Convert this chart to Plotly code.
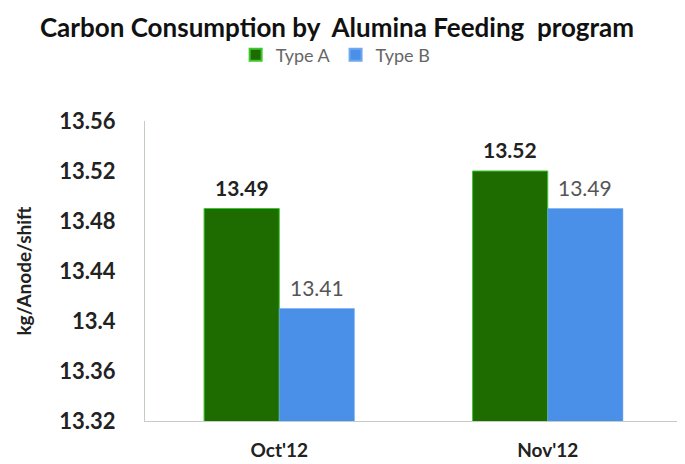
import plotly.graph_objects as go

categories = ["Oct'12", "Nov'12"]
type_a = [13.49, 13.52]
type_b = [13.41, 13.49]
y_ticks = [13.32, 13.36, 13.40, 13.44, 13.48, 13.52, 13.56]
y_tick_labels = ["13.32", "13.36", "13.4", "13.44", "13.48", "13.52", "13.56"]

FONT = "Lato"
GREEN = "#1E6B00"
BLUE = "#4A8FE8"

fig = go.Figure()
fig.add_trace(go.Bar(
    x=categories, y=type_a, name="Type A",
    marker=dict(color=GREEN, line=dict(color="#3CC82C", width=1)),
))
fig.add_trace(go.Bar(
    x=categories, y=type_b, name="Type B",
    marker=dict(color=BLUE, line=dict(color="#6FA8F0", width=0.5)),
))

# data labels
for i, c in enumerate(categories):
    fig.add_annotation(x=c, y=type_a[i], text="<b>%.2f</b>" % type_a[i],
                       xshift=-37.7, yshift=7, yanchor="bottom", showarrow=False,
                       font=dict(family=FONT, size=21, color="#222222"))
    fig.add_annotation(x=c, y=type_b[i], text="%.2f" % type_b[i],
                       xshift=37.7, yshift=7, yanchor="bottom", showarrow=False,
                       font=dict(family=FONT, size=21, color="#555555"))

fig.update_layout(
    width=677, height=456,
    margin=dict(l=137, r=3, t=113, b=43, autoexpand=False),
    paper_bgcolor="white", plot_bgcolor="white",
    barmode="group", bargap=0.44, bargroupgap=0,
    title=dict(text="<b>Carbon Consumption by  Alumina Feeding  program</b>",
               x=0.486, xanchor="center", y=0.956, yanchor="middle",
               font=dict(family=FONT, size=26, color="#111111")),
    legend=dict(orientation="h", x=0.355, xanchor="center", y=1.22, yanchor="middle",
                font=dict(family=FONT, size=18, color="#666666"),
                itemwidth=30, itemsizing="constant", traceorder="normal",
                bgcolor="rgba(0,0,0,0)"),
    showlegend=True,
)
fig.update_yaxes(
    range=[13.32, 13.56], tickvals=y_ticks, ticktext=["<b>%s</b>" % t for t in y_tick_labels],
    showgrid=False, zeroline=False, showline=True, linecolor="#C4CCC4", linewidth=1,
    ticks="", ticklabelstandoff=24, automargin=False,
    tickfont=dict(family=FONT, size=22, color="#222222"),
    title=dict(text="<b>kg/Anode/shift</b>", standoff=22,
               font=dict(family=FONT, size=19, color="#222222")),
)
fig.update_xaxes(
    showgrid=False, showline=True, linecolor="#C4CCC4", linewidth=1,
    ticks="", ticklabelstandoff=12, automargin=False,
    tickfont=dict(family=FONT, size=19, color="#222222"),
    tickvals=categories, ticktext=["<b>%s</b>" % c for c in categories],
)

fig.write_html("out.html")
